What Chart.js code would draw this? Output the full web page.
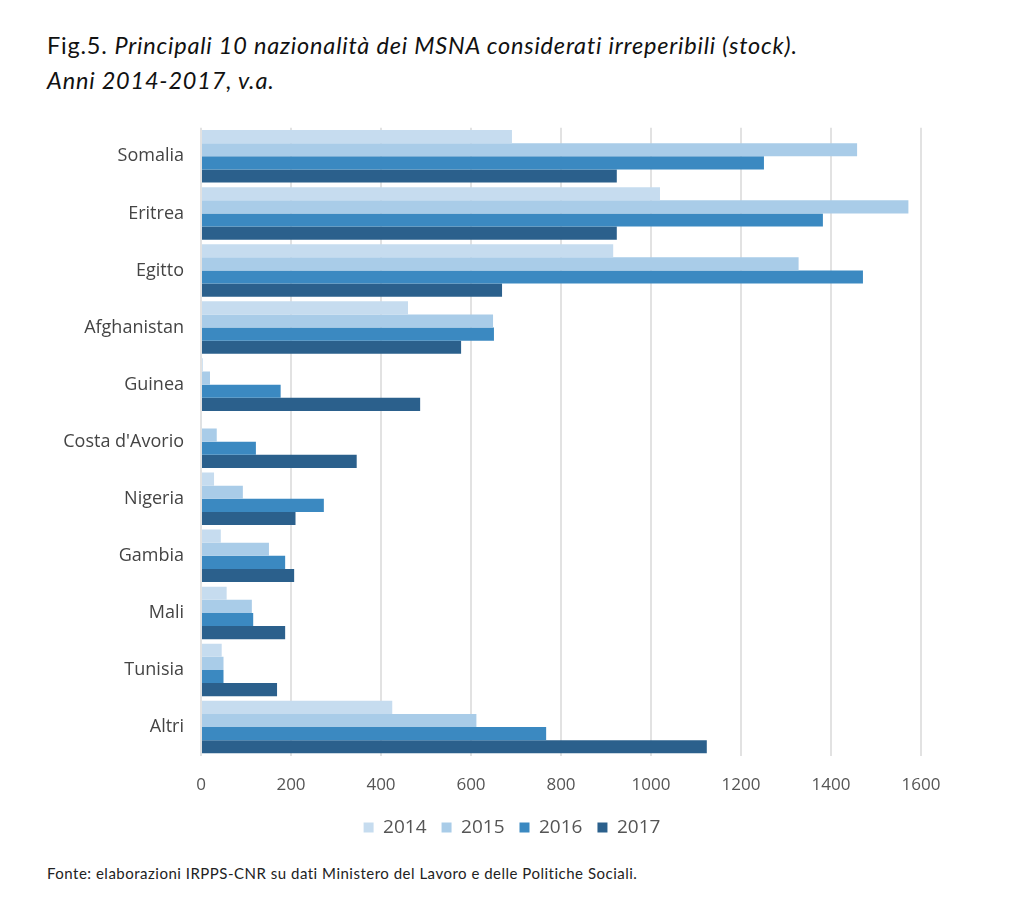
<!DOCTYPE html>
<html>
<head>
<meta charset="utf-8">
<script src="https://cdn.jsdelivr.net/npm/chart.js@4/dist/chart.umd.min.js"></script>
<style>
  body { margin:0; background:#fff; width:1024px; height:905px; position:relative; font-family:Lato, "Open Sans", sans-serif; color:#111; }
  #title { position:absolute; left:47px; top:28px; font-size:23.5px; line-height:35px; letter-spacing:0.8px; }
  #title i { font-style:italic; }
  #wrap { position:absolute; left:0; top:108px; width:1024px; height:746px; }
  #source { position:absolute; left:47px; top:864px; font-size:15px; letter-spacing:0.5px; color:#222; }
</style>
</head>
<body>
<div id="title">Fig.5. <i>Principali 10 nazionalità dei MSNA considerati irreperibili (stock).</i><br><i>Anni 2014-2017, v.a.</i></div>
<div id="wrap"><canvas id="c"></canvas></div>
<div id="source">Fonte: elaborazioni IRPPS-CNR su dati Ministero del Lavoro e delle Politiche Sociali.</div>
<script>
const countries = ['Somalia','Eritrea','Egitto','Afghanistan','Guinea',"Costa d'Avorio",'Nigeria','Gambia','Mali','Tunisia','Altri'];
const years = ['2014','2015','2016','2017'];
const v2014 = [691, 1020, 916, 460, 4, 2, 29, 44, 57, 46, 425];
const v2015 = [1458, 1572, 1328, 649, 20, 35, 93, 151, 113, 50, 612];
const v2016 = [1251, 1382, 1471, 651, 177, 122, 273, 187, 116, 50, 767];
const v2017 = [924, 924, 669, 578, 487, 346, 210, 207, 187, 169, 1124];
const colors = ['#c6dcef', '#a9cce8', '#3b89c1', '#2b608c'];

const series = [v2014, v2015, v2016, v2017];

new Chart(document.getElementById('c'), {
  type: 'bar',
  data: {
    labels: countries,
    datasets: series.map((d, i) => ({
      label: years[i], data: d, backgroundColor: colors[i],
      borderWidth: 0, barPercentage: 1, categoryPercentage: 0.92
    }))
  },
  options: {
    indexAxis: 'y',
    responsive: true,
    maintainAspectRatio: false,
    animation: false,
    layout: { padding: { left: 0, right: 0, top: 13, bottom: 7 } },
    plugins: {
      legend: {
        position: 'bottom',
        labels: {
          boxWidth: 10, boxHeight: 10, padding: 15,
          color: '#555', font: { family: 'Open Sans', size: 19 }
        }
      },
      tooltip: { enabled: false }
    },
    scales: {
      x: {
        min: 0, max: 1600,
        afterFit: s => { s.height -= 11; },
        ticks: { stepSize: 200, color: '#555', font: { family: 'Open Sans', size: 17 }, padding: 19,
          callback: v => String(v) },
        grid: { color: '#e2e2e2', lineWidth: 2, drawTicks: false },
        border: { display: false }
      },
      y: {
        afterFit: s => { s.width = 201; },
        ticks: { color: '#444', font: { family: 'Open Sans', size: 18 }, padding: 9 },
        grid: { display: false },
        border: { display: false }
      },
      // empty right-hand axis, only to keep the plot narrower than the legend
      yr: {
        type: 'category', position: 'right', labels: countries,
        afterFit: s => { s.width = 103; },
        ticks: { display: false },
        grid: { display: false },
        border: { display: false }
      }
    }
  }
});
</script>
</body>
</html>
